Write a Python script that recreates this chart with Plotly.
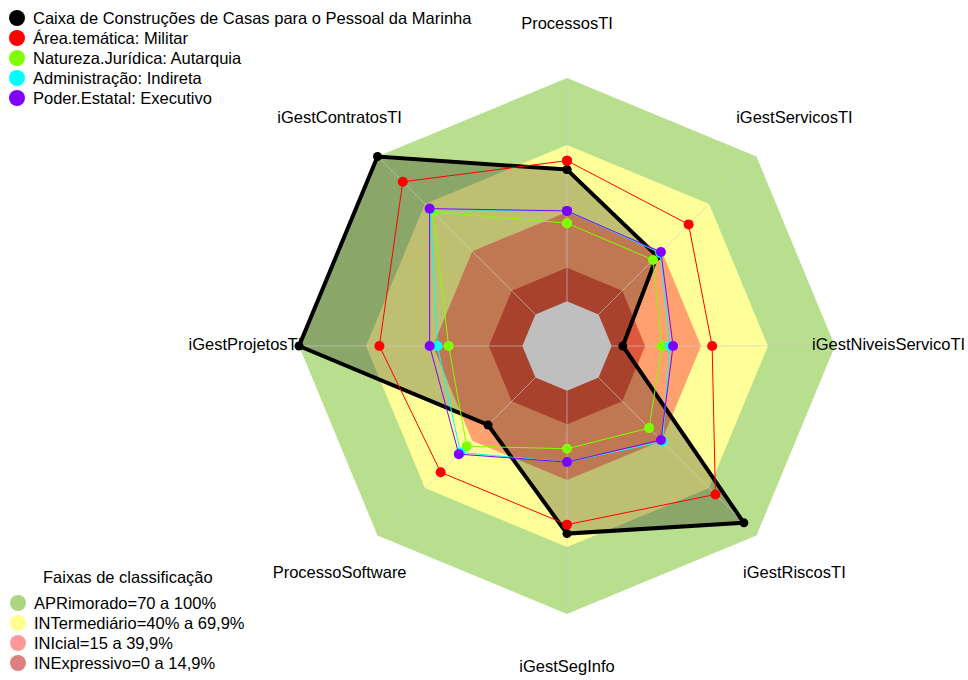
import plotly.graph_objects as go

# Axes of the radar, clockwise from the top
categories = [
    "ProcessosTI", "iGestServicosTI", "iGestNiveisServicoTI", "iGestRiscosTI",
    "iGestSegInfo", "ProcessoSoftware", "iGestProjetosTI", "iGestContratosTI",
]

# Series (percent scores per axis)
caixa = [59, 37, 5, 92, 64, 30, 100, 100]
militar = [63, 57, 45, 74, 60, 60, 64, 84]
autarquia = [35, 34.5, 22.5, 32, 26, 43.5, 33, 65]
indireta = [40.5, 39, 26, 40.5, 32, 47.5, 38, 66.5]
executivo = [40.5, 39.5, 27.5, 39.5, 32, 48.5, 41.5, 67]

series_names = [
    "Caixa de Construções de Casas para o Pessoal da Marinha",
    "Área.temática: Militar",
    "Natureza.Jurídica: Autarquia",
    "Administração: Indireta",
    "Poder.Estatal: Executivo",
]

# Classification bands (upper limit of each band)
band_limits = [100, 70, 40, 15]
band_labels = [
    "APRimorado=70 a 100%",
    "INTermediário=40% a 69,9%",
    "INIcial=15 a 39,9%",
    "INExpressivo=0 a 14,9%",
]
band_title = "Faixas de classificação"

FONT = "Liberation Sans, Arial, sans-serif"
FSIZE = 16.5
band_fill = ["rgb(184,223,141)", "rgb(255,255,153)", "rgb(255,161,110)", "rgb(224,88,60)"]
band_legend = ["rgb(172,214,128)", "rgb(255,255,145)", "rgb(255,153,153)", "rgb(222,128,128)"]
series_colors = ["black", "rgb(255,0,0)", "rgb(128,255,0)", "rgb(0,255,255)", "rgb(128,0,255)"]

W, H = 968, 680


def closed(values):
    return list(values) + [values[0]]


theta_closed = closed(categories)

fig = go.Figure()

# Background bands, largest first
for lim, col in zip(band_limits, band_fill):
    fig.add_trace(go.Scatterpolar(
        r=closed([lim] * len(categories)), theta=theta_closed, mode="lines",
        fill="toself", fillcolor=col, line=dict(width=0, color=col),
        hoverinfo="skip", showlegend=False))

# Empty centre below zero
fig.add_trace(go.Scatterpolar(
    r=closed([0] * len(categories)), theta=theta_closed, mode="lines",
    fill="toself", fillcolor="white", line=dict(width=0, color="white"),
    hoverinfo="skip", showlegend=False))

# Shaded area of the main organisation
fig.add_trace(go.Scatterpolar(
    r=closed(caixa), theta=theta_closed, mode="lines", fill="toself",
    fillcolor="rgba(0,0,0,0.25)", line=dict(width=0, color="rgba(0,0,0,0)"),
    hoverinfo="skip", showlegend=False))

# Spokes from 0 to 100
for cat in categories:
    fig.add_trace(go.Scatterpolar(
        r=[0, 100], theta=[cat, cat], mode="lines",
        line=dict(width=1, color="rgba(205,205,205,0.6)"),
        hoverinfo="skip", showlegend=False))

# Series outlines
all_series = [caixa, militar, autarquia, indireta, executivo]
for i, (vals, name, col) in enumerate(zip(all_series, series_names, series_colors)):
    fig.add_trace(go.Scatterpolar(
        r=closed(vals), theta=theta_closed, mode="lines+markers", name=name,
        line=dict(width=4 if i == 0 else 1, color=col),
        marker=dict(size=9 if i == 0 else 10, color=col),
        showlegend=False))

# Axis labels
fig.add_trace(go.Scatterpolar(
    r=[124] * len(categories), theta=categories, mode="text", text=categories,
    textposition="middle center", textfont=dict(size=FSIZE, color="black", family=FONT),
    cliponaxis=False, hoverinfo="skip", showlegend=False))

# Legends drawn on a pixel-scaled overlay axis
leg1_x, leg1_y0, leg_step = 17, 18, 20
leg2_x, leg2_y0 = 18, 603
text_dx = 14

leg_x = [leg1_x] * len(series_names) + [leg2_x] * len(band_labels)
leg_y = [leg1_y0 + leg_step * i for i in range(len(series_names))] + \
        [leg2_y0 + leg_step * i for i in range(len(band_labels))]
leg_colors = series_colors + band_legend
leg_text = series_names + band_labels

fig.add_trace(go.Scatter(
    x=leg_x, y=leg_y, mode="markers", xaxis="x", yaxis="y",
    marker=dict(size=16, color=leg_colors, line=dict(width=0)),
    hoverinfo="skip", showlegend=False, cliponaxis=False))

annotations = [
    dict(x=x + text_dx, y=y, xref="x", yref="y", text=t, showarrow=False,
         xanchor="left", yanchor="middle", font=dict(size=FSIZE, family=FONT, color="black"))
    for x, y, t in zip(leg_x, leg_y, leg_text)
]
annotations.append(dict(x=128, y=577, xref="x", yref="y", text=band_title, showarrow=False,
                        xanchor="center", yanchor="middle",
                        font=dict(size=FSIZE, family=FONT, color="black")))

fig.update_layout(
    width=W, height=H,
    margin=dict(l=0, r=0, t=0, b=0),
    paper_bgcolor="white",
    plot_bgcolor="rgba(0,0,0,0)",
    font=dict(family=FONT, size=FSIZE, color="black"),
    showlegend=False,
    xaxis=dict(range=[0, W], domain=[0, 1], visible=False, fixedrange=True),
    yaxis=dict(range=[H, 0], domain=[0, 1], visible=False, fixedrange=True),
    polar=dict(
        domain=dict(x=[236.5 / W, 897.5 / W], y=[3.5 / H, 664.5 / H]),
        bgcolor="rgba(0,0,0,0)",
        radialaxis=dict(range=[-20, 128], visible=False, showgrid=False),
        angularaxis=dict(direction="clockwise", rotation=90, visible=False,
                         showgrid=False, categoryorder="array", categoryarray=categories),
    ),
    annotations=annotations,
)

fig.write_html("out.html")
